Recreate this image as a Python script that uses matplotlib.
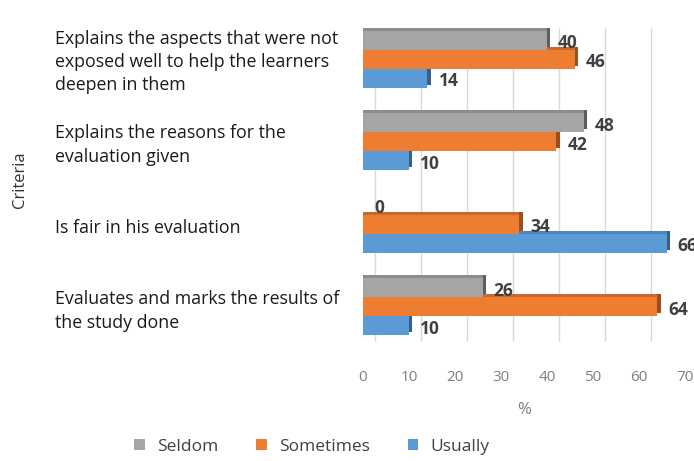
import matplotlib
matplotlib.use("Agg")
import matplotlib.pyplot as plt
import matplotlib.transforms as mtransforms
from matplotlib.patches import Patch
import numpy as np

plt.rcParams['font.family'] = ['Open Sans', 'DejaVu Sans']

# data
criteria = [
    "Explains the aspects that were not\nexposed well to help the learners\ndeepen in them",
    "Explains the reasons for the\nevaluation given",
    "Is fair in his evaluation",
    "Evaluates and marks the results of\nthe study done",
]
series_names = ["Seldom", "Sometimes", "Usually"]
seldom = [40, 48, 0, 26]
sometimes = [46, 42, 34, 64]
usually = [14, 10, 66, 10]
x_ticks = [0, 10, 20, 30, 40, 50, 60, 70]

colors = ["#a5a5a5", "#ed7d31", "#5b9bd5"]
top_colors = ["#8c8c8c", "#c9682a", "#4d85b8"]
side_colors = ["#5e5e5e", "#9a4f1c", "#365f8a"]

fig = plt.figure(figsize=(6.94, 4.61), dpi=100)
ax = fig.add_axes([0.523, 0.245, 0.464, 0.716])

y = np.arange(len(criteria))
h = 0.23
offsets = [-h, 0, h]

# fake 3D depth: shifted copies behind each bar
side = mtransforms.ScaledTranslation(0.035, 0.03, fig.dpi_scale_trans)
top = mtransforms.ScaledTranslation(0.0, 0.03, fig.dpi_scale_trans)

for vals, off, c, tc, sc in zip([seldom, sometimes, usually], offsets, colors, top_colors, side_colors):
    back = ax.barh(y + off, vals, height=h, color=sc, zorder=2)
    for p in back:
        p.set_transform(ax.transData + side)
    mid = ax.barh(y + off, vals, height=h, color=tc, zorder=2.5)
    for p in mid:
        p.set_transform(ax.transData + top)
    ax.barh(y + off, vals, height=h, color=c, zorder=3)
    for v, yy in zip(vals, y + off):
        ax.annotate(str(v), (v, yy), xytext=(8, -2), textcoords="offset points",
                    ha="left", va="center", fontsize=12.5, fontweight="bold",
                    color="#404040", zorder=5, annotation_clip=False)

ax.set_xlim(0, 70)
ax.set_ylim(3.5, -0.5)
ax.set_xticks(x_ticks)
ax.set_xticklabels([str(t) for t in x_ticks], color="#7f7f7f", fontsize=11)
ax.tick_params(axis="x", length=0, pad=16)
ax.set_yticks([])

# back-wall gridlines (shifted like the 3D wall)
wall = mtransforms.ScaledTranslation(0.12, 0.0, fig.dpi_scale_trans)
ax.vlines(x_ticks, 0.02, 0.97, transform=ax.get_xaxis_transform() + wall,
          color="#d9d9d9", lw=1, zorder=1, clip_on=False)
for s in ax.spines.values():
    s.set_visible(False)

ax.set_xlabel("%", color="#7f7f7f", fontsize=12, labelpad=12)

for label, yy in zip(criteria, y):
    fig.text(55 / 694, 1 - (60 + 83 * yy + 2) / 461, label, ha="left", va="center",
             fontsize=12.8, color="#1a1a1a", linespacing=1.38)

fig.text(20 / 694, 1 - 180 / 461, "Criteria", rotation=90, ha="center", va="center",
         fontsize=12, color="#333333")

handles = [Patch(facecolor=c) for c in colors]
fig.legend(handles, series_names, loc="center", bbox_to_anchor=(312 / 694, 1 - 447 / 461),
           ncol=3, frameon=False, fontsize=12.5, handlelength=0.6, handleheight=0.6,
           columnspacing=2.2, handletextpad=0.7, labelcolor="#404040")

fig.savefig("out.png", dpi=100)
